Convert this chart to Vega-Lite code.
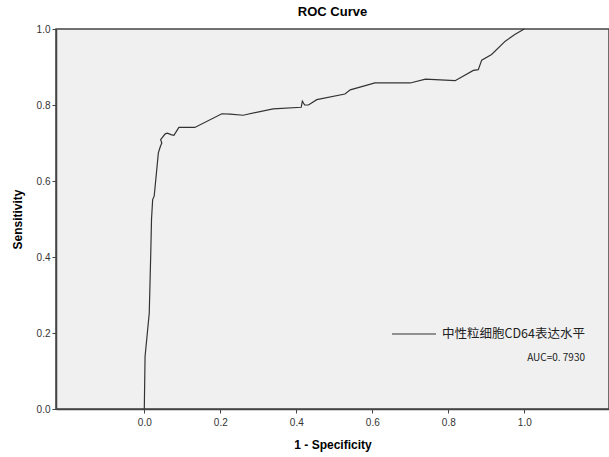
{
  "$schema": "https://vega.github.io/schema/vega-lite/v6.json",
  "autosize": {"type": "none"},
  "width": 553,
  "height": 380,
  "padding": {"left": 56, "top": 29, "right": 0, "bottom": 48},
  "background": "white",
  "title": {"text": "ROC Curve", "font": "Liberation Sans", "fontSize": 13, "fontWeight": "bold", "color": "#000", "offset": 5},
  "config": {
    "view": {"fill": "#F0F0F0", "stroke": "#444", "strokeWidth": 1.5},
    "axis": {"grid": false, "labelFont": "Liberation Sans", "labelFontSize": 10, "labelColor": "#333", "titleFont": "Liberation Sans", "titleFontSize": 12, "titleFontWeight": "bold", "titleColor": "#000", "domainColor": "#444", "domainWidth": 1.5, "tickColor": "#444", "tickSize": 4, "tickWidth": 1}
  },
  "data": {"values": [
    {"i": 0, "fpr": 0.0, "tpr": 0.0, "series": "中性粒细胞CD64表达水平"},
    {"i": 1, "fpr": 0.002, "tpr": 0.138, "series": "中性粒细胞CD64表达水平"},
    {"i": 2, "fpr": 0.013, "tpr": 0.252, "series": "中性粒细胞CD64表达水平"},
    {"i": 3, "fpr": 0.017, "tpr": 0.41, "series": "中性粒细胞CD64表达水平"},
    {"i": 4, "fpr": 0.019, "tpr": 0.5, "series": "中性粒细胞CD64表达水平"},
    {"i": 5, "fpr": 0.022, "tpr": 0.551, "series": "中性粒细胞CD64表达水平"},
    {"i": 6, "fpr": 0.026, "tpr": 0.56, "series": "中性粒细胞CD64表达水平"},
    {"i": 7, "fpr": 0.037, "tpr": 0.674, "series": "中性粒细胞CD64表达水平"},
    {"i": 8, "fpr": 0.042, "tpr": 0.69, "series": "中性粒细胞CD64表达水平"},
    {"i": 9, "fpr": 0.046, "tpr": 0.7, "series": "中性粒细胞CD64表达水平"},
    {"i": 10, "fpr": 0.043, "tpr": 0.709, "series": "中性粒细胞CD64表达水平"},
    {"i": 11, "fpr": 0.055, "tpr": 0.724, "series": "中性粒细胞CD64表达水平"},
    {"i": 12, "fpr": 0.061, "tpr": 0.726, "series": "中性粒细胞CD64表达水平"},
    {"i": 13, "fpr": 0.07, "tpr": 0.722, "series": "中性粒细胞CD64表达水平"},
    {"i": 14, "fpr": 0.078, "tpr": 0.72, "series": "中性粒细胞CD64表达水平"},
    {"i": 15, "fpr": 0.091, "tpr": 0.741, "series": "中性粒细胞CD64表达水平"},
    {"i": 16, "fpr": 0.133, "tpr": 0.741, "series": "中性粒细胞CD64表达水平"},
    {"i": 17, "fpr": 0.204, "tpr": 0.777, "series": "中性粒细胞CD64表达水平"},
    {"i": 18, "fpr": 0.226, "tpr": 0.776, "series": "中性粒细胞CD64表达水平"},
    {"i": 19, "fpr": 0.26, "tpr": 0.773, "series": "中性粒细胞CD64表达水平"},
    {"i": 20, "fpr": 0.339, "tpr": 0.79, "series": "中性粒细胞CD64表达水平"},
    {"i": 21, "fpr": 0.413, "tpr": 0.794, "series": "中性粒细胞CD64表达水平"},
    {"i": 22, "fpr": 0.416, "tpr": 0.81, "series": "中性粒细胞CD64表达水平"},
    {"i": 23, "fpr": 0.422, "tpr": 0.8, "series": "中性粒细胞CD64表达水平"},
    {"i": 24, "fpr": 0.432, "tpr": 0.8, "series": "中性粒细胞CD64表达水平"},
    {"i": 25, "fpr": 0.454, "tpr": 0.814, "series": "中性粒细胞CD64表达水平"},
    {"i": 26, "fpr": 0.528, "tpr": 0.829, "series": "中性粒细胞CD64表达水平"},
    {"i": 27, "fpr": 0.542, "tpr": 0.84, "series": "中性粒细胞CD64表达水平"},
    {"i": 28, "fpr": 0.607, "tpr": 0.858, "series": "中性粒细胞CD64表达水平"},
    {"i": 29, "fpr": 0.7, "tpr": 0.858, "series": "中性粒细胞CD64表达水平"},
    {"i": 30, "fpr": 0.74, "tpr": 0.868, "series": "中性粒细胞CD64表达水平"},
    {"i": 31, "fpr": 0.818, "tpr": 0.864, "series": "中性粒细胞CD64表达水平"},
    {"i": 32, "fpr": 0.866, "tpr": 0.891, "series": "中性粒细胞CD64表达水平"},
    {"i": 33, "fpr": 0.879, "tpr": 0.893, "series": "中性粒细胞CD64表达水平"},
    {"i": 34, "fpr": 0.888, "tpr": 0.918, "series": "中性粒细胞CD64表达水平"},
    {"i": 35, "fpr": 0.914, "tpr": 0.933, "series": "中性粒细胞CD64表达水平"},
    {"i": 36, "fpr": 0.95, "tpr": 0.968, "series": "中性粒细胞CD64表达水平"},
    {"i": 37, "fpr": 0.976, "tpr": 0.986, "series": "中性粒细胞CD64表达水平"},
    {"i": 38, "fpr": 1.0, "tpr": 1.0, "series": "中性粒细胞CD64表达水平"}
  ]},
  "mark": {"type": "line", "strokeWidth": 1.2, "interpolate": "linear"},
  "encoding": {
    "x": {"field": "fpr", "type": "quantitative", "scale": {"domain": [-0.2324, 1.223], "nice": false, "zero": false}, "axis": {"values": [0, 0.2, 0.4, 0.6, 0.8, 1.0], "format": ".1f", "title": "1 - Specificity", "titlePadding": 12, "labelPadding": 4}},
    "y": {"field": "tpr", "type": "quantitative", "scale": {"domain": [0, 1], "nice": false}, "axis": {"values": [0, 0.2, 0.4, 0.6, 0.8, 1.0], "format": ".1f", "title": "Sensitivity", "titlePadding": 12, "labelPadding": 2}},
    "order": {"field": "i", "type": "quantitative"},
    "color": {"field": "series", "type": "nominal", "scale": {"range": ["#333333"]}, "legend": {"orient": "none", "legendX": 335, "legendY": 282, "title": "AUC=0. 7930", "titleOrient": "bottom", "titleAnchor": "end", "titleFont": "Noto Sans CJK SC", "titleFontSize": 10, "titleFontWeight": "normal", "titleColor": "#222", "titlePadding": 12, "labelFont": "Noto Sans CJK SC", "labelFontSize": 12.5, "labelColor": "#222", "symbolType": "stroke", "symbolSize": 1936, "symbolStrokeWidth": 1.2, "labelOffset": 5, "labelLimit": 300}}
  }
}
